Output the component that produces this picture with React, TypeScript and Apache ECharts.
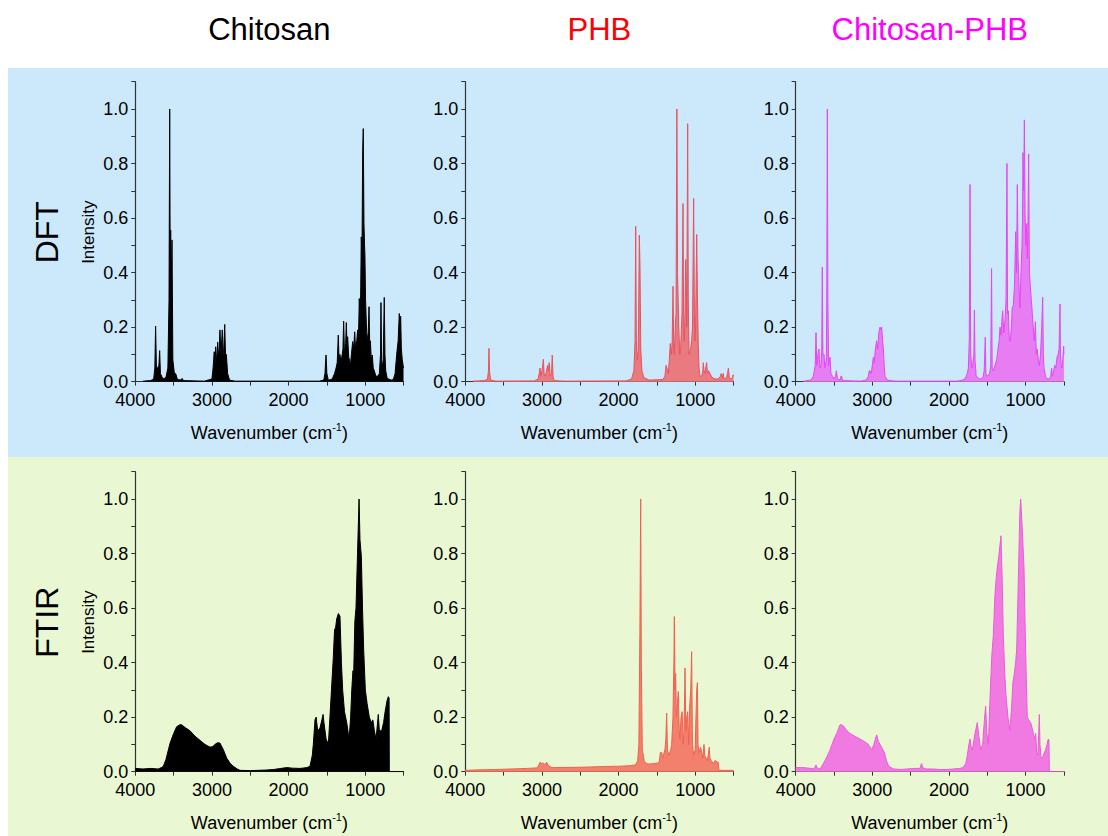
import React, { useEffect, useRef } from "react";
import * as echarts from "echarts";

// ---------- data: [wavenumber (cm-1), normalized intensity] ----------
const dftChitosan: number[][] = [
  [3900,0.002],[3800,0.004],[3760,0.01],[3745,0.05],[3735,0.204],[3725,0.06],[3700,0.04],[3690,0.07],[3682,0.114],[3672,0.03],[3640,0.01],[3600,0.015],[3575,0.05],[3560,0.3],[3551,1.0],[3545,0.45],[3538,0.556],[3530,0.35],[3521,0.52],[3510,0.08],[3490,0.03],[3473,0.03],[3450,0.008],[3400,0.006],[3390,0.012],[3370,0.004],[3100,0.002],[3000,0.01],[2985,0.05],[2970,0.11],[2960,0.06],[2951,0.128],[2940,0.07],[2925,0.145],[2912,0.08],[2895,0.19],[2882,0.1],[2865,0.19],[2850,0.08],[2833,0.21],[2822,0.09],[2812,0.1],[2795,0.03],[2770,0.006],[2700,0.002],[1600,0.002],[1540,0.006],[1525,0.03],[1511,0.098],[1500,0.03],[1480,0.005],[1430,0.01],[1400,0.03],[1380,0.05],[1365,0.07],[1351,0.171],[1340,0.07],[1330,0.1],[1316,0.073],[1300,0.1],[1290,0.12],[1281,0.222],[1270,0.1],[1255,0.14],[1246,0.217],[1237,0.12],[1229,0.165],[1215,0.09],[1205,0.08],[1194,0.055],[1180,0.1],[1163,0.147],[1150,0.12],[1137,0.183],[1125,0.12],[1110,0.15],[1098,0.19],[1088,0.15],[1077,0.305],[1065,0.2],[1058,0.35],[1051,0.531],[1042,0.45],[1033,0.845],[1025,0.928],[1016,0.58],[1008,0.5],[1003,0.458],[995,0.3],[985,0.215],[975,0.15],[960,0.18],[950,0.275],[940,0.12],[933,0.15],[920,0.08],[907,0.098],[895,0.05],[881,0.04],[860,0.02],[837,0.02],[815,0.03],[800,0.1],[794,0.29],[786,0.08],[777,0.05],[765,0.08],[751,0.309],[742,0.1],[732,0.04],[715,0.015],[698,0.01],[660,0.006],[633,0.008],[610,0.03],[589,0.1],[570,0.15],[555,0.25],[546,0.2],[537,0.24],[528,0.12],[516,0.08],[505,0.06],[500,0.05]
];

const dftPhb: number[][] = [
  [3900,0.002],[3750,0.004],[3710,0.01],[3698,0.04],[3691,0.122],[3684,0.04],[3670,0.006],[3600,0.002],[3100,0.003],[3050,0.01],[3035,0.03],[3025,0.05],[3015,0.02],[3000,0.04],[2990,0.06],[2982,0.082],[2972,0.03],[2955,0.02],[2940,0.04],[2925,0.06],[2915,0.04],[2905,0.07],[2892,0.02],[2875,0.03],[2865,0.098],[2855,0.02],[2840,0.004],[2700,0.002],[1900,0.003],[1830,0.01],[1800,0.04],[1785,0.15],[1776,0.57],[1768,0.15],[1755,0.08],[1742,0.12],[1729,0.537],[1720,0.42],[1710,0.12],[1695,0.04],[1670,0.015],[1600,0.006],[1420,0.008],[1395,0.02],[1380,0.06],[1372,0.06],[1360,0.04],[1351,0.03],[1338,0.08],[1325,0.14],[1310,0.1],[1300,0.15],[1289,0.35],[1280,0.12],[1272,0.1],[1260,0.2],[1250,0.25],[1239,1.0],[1230,0.4],[1224,0.4],[1214,0.2],[1202,0.1],[1190,0.12],[1172,0.25],[1159,0.653],[1150,0.2],[1142,0.15],[1133,0.25],[1124,0.448],[1115,0.35],[1110,0.2],[1098,0.946],[1090,0.3],[1080,0.1],[1072,0.1],[1060,0.12],[1046,0.15],[1035,0.2],[1020,0.672],[1010,0.25],[1003,0.15],[995,0.2],[980,0.54],[970,0.3],[959,0.13],[950,0.05],[937,0.02],[915,0.02],[900,0.04],[894,0.07],[885,0.04],[874,0.03],[862,0.05],[850,0.07],[840,0.03],[825,0.04],[807,0.03],[780,0.015],[741,0.01],[700,0.01],[670,0.02],[660,0.03],[654,0.03],[645,0.015],[635,0.03],[625,0.01],[590,0.015],[578,0.03],[567,0.05],[555,0.015],[533,0.01],[515,0.015],[505,0.025],[500,0.02]
];

const dftBlend: number[][] = [
  [3900,0.002],[3800,0.006],[3770,0.02],[3745,0.06],[3735,0.18],[3725,0.06],[3710,0.1],[3696,0.12],[3685,0.05],[3670,0.06],[3660,0.12],[3653,0.42],[3645,0.1],[3630,0.1],[3620,0.05],[3600,0.08],[3595,0.3],[3587,1.0],[3580,0.3],[3570,0.06],[3552,0.09],[3540,0.03],[3520,0.02],[3500,0.01],[3480,0.02],[3469,0.04],[3455,0.01],[3420,0.006],[3410,0.02],[3400,0.02],[3390,0.004],[3150,0.002],[3080,0.006],[3052,0.02],[3040,0.04],[3030,0.04],[3015,0.03],[3000,0.06],[2987,0.09],[2975,0.07],[2960,0.12],[2943,0.15],[2930,0.12],[2915,0.18],[2900,0.2],[2890,0.19],[2878,0.2],[2866,0.15],[2856,0.12],[2845,0.06],[2835,0.02],[2800,0.005],[2700,0.002],[1900,0.002],[1830,0.005],[1790,0.01],[1760,0.03],[1747,0.05],[1735,0.15],[1725,0.723],[1716,0.1],[1700,0.05],[1690,0.06],[1675,0.1],[1668,0.263],[1660,0.08],[1645,0.02],[1600,0.01],[1560,0.012],[1540,0.04],[1526,0.163],[1518,0.03],[1500,0.02],[1470,0.03],[1455,0.06],[1444,0.415],[1436,0.05],[1420,0.04],[1400,0.06],[1377,0.08],[1360,0.12],[1345,0.15],[1334,0.2],[1320,0.17],[1310,0.22],[1299,0.26],[1285,0.18],[1270,0.22],[1255,0.3],[1243,0.8],[1235,0.25],[1225,0.26],[1212,0.15],[1199,0.15],[1185,0.2],[1175,0.27],[1160,0.28],[1145,0.35],[1129,0.55],[1118,0.4],[1108,0.723],[1098,0.45],[1090,0.4],[1080,0.3],[1073,0.27],[1060,0.4],[1047,0.5],[1040,0.6],[1034,0.84],[1025,0.7],[1016,0.96],[1006,0.6],[995,0.5],[985,0.58],[977,0.45],[968,0.6],[960,0.835],[950,0.4],[938,0.35],[925,0.3],[912,0.25],[900,0.2],[886,0.15],[872,0.22],[860,0.1],[848,0.12],[834,0.08],[820,0.06],[805,0.1],[790,0.2],[777,0.31],[768,0.1],[760,0.05],[740,0.02],[720,0.01],[690,0.01],[672,0.02],[660,0.05],[650,0.02],[640,0.03],[620,0.06],[605,0.05],[590,0.09],[575,0.1],[563,0.12],[551,0.285],[545,0.1],[535,0.06],[525,0.05],[515,0.08],[503,0.13],[500,0.1]
];

const ftirChitosan: number[][] = [
  [4000,0.012],[3900,0.01],[3800,0.012],[3700,0.01],[3660,0.015],[3634,0.02],[3600,0.045],[3547,0.104],[3500,0.14],[3460,0.165],[3420,0.172],[3395,0.172],[3350,0.162],[3286,0.15],[3220,0.13],[3156,0.115],[3090,0.1],[3025,0.09],[2990,0.092],[2960,0.1],[2930,0.106],[2895,0.105],[2850,0.08],[2808,0.05],[2760,0.03],[2721,0.02],[2670,0.01],[2634,0.005],[2500,0.004],[2400,0.005],[2300,0.006],[2200,0.008],[2100,0.012],[2024,0.015],[1950,0.013],[1850,0.012],[1760,0.015],[1720,0.02],[1690,0.06],[1677,0.1],[1655,0.19],[1640,0.2],[1620,0.15],[1590,0.16],[1565,0.19],[1550,0.21],[1538,0.18],[1510,0.12],[1481,0.1],[1460,0.2],[1440,0.3],[1416,0.42],[1400,0.52],[1385,0.53],[1372,0.56],[1350,0.58],[1329,0.57],[1310,0.4],[1294,0.3],[1270,0.22],[1241,0.18],[1220,0.14],[1207,0.13],[1190,0.2],[1175,0.3],[1160,0.37],[1150,0.36],[1135,0.55],[1120,0.6],[1100,0.8],[1080,1.0],[1068,0.85],[1050,0.79],[1035,0.6],[1020,0.45],[998,0.3],[975,0.25],[946,0.2],[920,0.18],[900,0.19],[880,0.15],[859,0.12],[845,0.16],[829,0.21],[815,0.15],[785,0.15],[760,0.18],[740,0.22],[715,0.26],[698,0.275],[688,0.27],[685,0.0],[500,0.0]
];

const ftirPhb: number[][] = [
  [4000,0.005],[3800,0.007],[3600,0.008],[3400,0.01],[3200,0.012],[3060,0.014],[3040,0.025],[3025,0.035],[3005,0.03],[2982,0.032],[2960,0.025],[2938,0.035],[2915,0.022],[2880,0.016],[2852,0.015],[2600,0.016],[2400,0.017],[2200,0.019],[2000,0.02],[1850,0.022],[1780,0.025],[1750,0.04],[1735,0.1],[1722,0.5],[1711,1.0],[1703,0.4],[1690,0.08],[1677,0.06],[1665,0.04],[1640,0.03],[1600,0.028],[1530,0.03],[1490,0.032],[1468,0.035],[1455,0.07],[1437,0.07],[1425,0.05],[1416,0.05],[1395,0.08],[1383,0.12],[1372,0.215],[1362,0.08],[1345,0.06],[1320,0.08],[1307,0.1],[1290,0.2],[1278,0.4],[1272,0.569],[1262,0.3],[1255,0.36],[1245,0.2],[1232,0.25],[1220,0.294],[1208,0.15],[1198,0.12],[1185,0.2],[1170,0.22],[1158,0.1],[1145,0.15],[1133,0.38],[1122,0.15],[1110,0.2],[1098,0.22],[1085,0.1],[1070,0.25],[1058,0.3],[1046,0.44],[1036,0.1],[1020,0.06],[1000,0.08],[990,0.2],[980,0.3],[971,0.327],[963,0.1],[952,0.07],[940,0.08],[930,0.09],[915,0.07],[900,0.05],[885,0.1],[875,0.06],[860,0.05],[845,0.04],[830,0.06],[816,0.09],[808,0.05],[790,0.04],[760,0.03],[745,0.04],[729,0.04],[715,0.035],[700,0.035],[693,0.035],[690,0.005],[500,0.005]
];

const ftirBlend: number[][] = [
  [4000,0.015],[3900,0.015],[3800,0.012],[3760,0.01],[3735,0.025],[3726,0.015],[3700,0.012],[3683,0.01],[3660,0.02],[3640,0.03],[3600,0.05],[3552,0.08],[3500,0.12],[3465,0.14],[3422,0.172],[3400,0.172],[3378,0.168],[3330,0.15],[3291,0.14],[3230,0.13],[3161,0.12],[3100,0.11],[3052,0.1],[3008,0.08],[2980,0.1],[2960,0.12],[2943,0.135],[2920,0.11],[2900,0.1],[2870,0.085],[2843,0.07],[2815,0.04],[2787,0.02],[2720,0.01],[2630,0.008],[2550,0.01],[2450,0.012],[2378,0.012],[2365,0.025],[2356,0.03],[2345,0.015],[2300,0.01],[2200,0.01],[2117,0.008],[2030,0.008],[1943,0.01],[1860,0.012],[1817,0.015],[1780,0.03],[1760,0.06],[1740,0.1],[1725,0.12],[1710,0.09],[1695,0.08],[1660,0.14],[1630,0.18],[1610,0.13],[1586,0.08],[1560,0.1],[1535,0.2],[1521,0.24],[1505,0.14],[1486,0.1],[1460,0.3],[1440,0.43],[1421,0.5],[1400,0.65],[1377,0.73],[1350,0.79],[1321,0.865],[1305,0.7],[1291,0.5],[1270,0.35],[1256,0.28],[1230,0.2],[1204,0.15],[1180,0.25],[1165,0.33],[1152,0.35],[1130,0.4],[1116,0.45],[1095,0.7],[1075,0.95],[1064,1.0],[1045,0.9],[1021,0.75],[1000,0.45],[978,0.2],[960,0.19],[934,0.18],[915,0.16],[899,0.14],[880,0.12],[868,0.14],[855,0.07],[840,0.06],[828,0.15],[821,0.21],[812,0.1],[799,0.05],[785,0.05],[769,0.06],[740,0.08],[720,0.1],[704,0.12],[695,0.115],[690,0.0],[500,0.0]
];

const columnTitles = ["Chitosan", "PHB", "Chitosan-PHB"];
const rowTitles = ["DFT", "FTIR"];
const xTickValues = [4000, 3000, 2000, 1000];

const FONT = "'Liberation Sans', Arial, Helvetica, sans-serif";

export default function App() {
  const ref = useRef<HTMLDivElement>(null);

  useEffect(() => {
    if (!ref.current) return;
    const chart = echarts.init(ref.current, undefined, { renderer: "svg" });

    const colLeft = [135.3, 465.3, 795.7];
    const plotW = 268.2;
    const rowTop = [81.7, 471.7];
    const plotH = 300;

    const panels = [
      { data: dftChitosan, line: "#000000", fill: "#000000" },
      { data: dftPhb, line: "#E8525C", fill: "#E97A80" },
      { data: dftBlend, line: "#E646F0", fill: "#E87CF2" },
      { data: ftirChitosan, line: "#000000", fill: "#000000" },
      { data: ftirPhb, line: "#F2604E", fill: "#F3806C" },
      { data: ftirBlend, line: "#EE5ADA", fill: "#F07AE2" },
    ];

    const grids: any[] = [];
    const xAxes: any[] = [];
    const yAxes: any[] = [];
    const series: any[] = [];
    const axisColor = "#333333";

    panels.forEach((p, i) => {
      const r = Math.floor(i / 3);
      const c = i % 3;
      grids.push({ left: colLeft[c], top: rowTop[r], width: plotW, height: plotH, containLabel: false });
      xAxes.push({
        gridIndex: i,
        type: "value",
        min: 500,
        max: 4000,
        interval: 500,
        inverse: true,
        axisLine: { show: true, onZero: false, lineStyle: { color: axisColor, width: 1.2 } },
        axisTick: { show: true, length: 4, lineStyle: { color: axisColor } },
        axisLabel: {
          fontSize: 18,
          fontFamily: FONT,
          color: "#000",
          margin: 9,
          formatter: (v: number) => (xTickValues.indexOf(Math.round(v)) >= 0 ? String(Math.round(v)) : ""),
        },
        splitLine: { show: false },
        name: "{a|Wavenumber (cm}{s|-1}{a|)}",
        nameLocation: "middle",
        nameGap: 40,
        nameTextStyle: {
          fontFamily: FONT,
          fontSize: 18,
          color: "#000",
          rich: {
            a: { fontFamily: FONT, fontSize: 18, color: "#000", lineHeight: 22 },
            s: { fontFamily: FONT, fontSize: 11, color: "#000", lineHeight: 10, verticalAlign: "top" },
          },
        },
      });
      yAxes.push({
        gridIndex: i,
        type: "value",
        min: 0,
        max: 1.1,
        interval: 0.1,
        axisLine: { show: true, onZero: false, lineStyle: { color: axisColor, width: 1.2 } },
        axisTick: { show: true, length: 4, lineStyle: { color: axisColor } },
        axisLabel: {
          fontSize: 18,
          fontFamily: FONT,
          color: "#000",
          margin: 7,
          formatter: (v: number) => {
            const k = Math.round(v * 10);
            return k % 2 === 0 && k <= 10 ? (k / 10).toFixed(1) : "";
          },
        },
        splitLine: { show: false },
      });
      series.push({
        type: "line",
        xAxisIndex: i,
        yAxisIndex: i,
        data: p.data,
        symbol: "none",
        smooth: false,
        lineStyle: { color: p.line, width: 1 },
        areaStyle: { color: p.fill, opacity: 1 },
        silent: true,
      });
    });

    const graphic: any[] = [
      { type: "rect", z: -10, shape: { x: 8, y: 68, width: 1100, height: 389 }, style: { fill: "#CBE9FB" } },
      { type: "rect", z: -10, shape: { x: 8, y: 457, width: 1100, height: 379 }, style: { fill: "#E9F8D3" } },
    ];
    const titleColors = ["#000000", "#FF0000", "#FF00FF"];
    columnTitles.forEach((t, c) => {
      graphic.push({
        type: "text",
        x: colLeft[c] + plotW / 2,
        y: 29,
        style: { text: t, fontSize: 31, fontFamily: FONT, fill: titleColors[c], align: "center", verticalAlign: "middle" },
      });
    });
    rowTitles.forEach((t, r) => {
      const cy = rowTop[r] + 150.5;
      graphic.push({
        type: "text",
        x: 47,
        y: cy,
        rotation: Math.PI / 2,
        style: { text: t, fontSize: 32, fontFamily: FONT, fill: "#000", align: "center", verticalAlign: "middle" },
      });
      graphic.push({
        type: "text",
        x: 88,
        y: cy,
        rotation: Math.PI / 2,
        style: { text: "Intensity", fontSize: 17, fontFamily: FONT, fill: "#000", align: "center", verticalAlign: "middle" },
      });
    });

    chart.setOption({
      animation: false,
      backgroundColor: "#ffffff",
      grid: grids,
      xAxis: xAxes,
      yAxis: yAxes,
      series,
      graphic,
    });

    return () => chart.dispose();
  }, []);

  return (
    <div
      ref={ref}
      style={{ position: "absolute", left: 0, top: 0, width: 1108, height: 836 }}
    />
  );
}
